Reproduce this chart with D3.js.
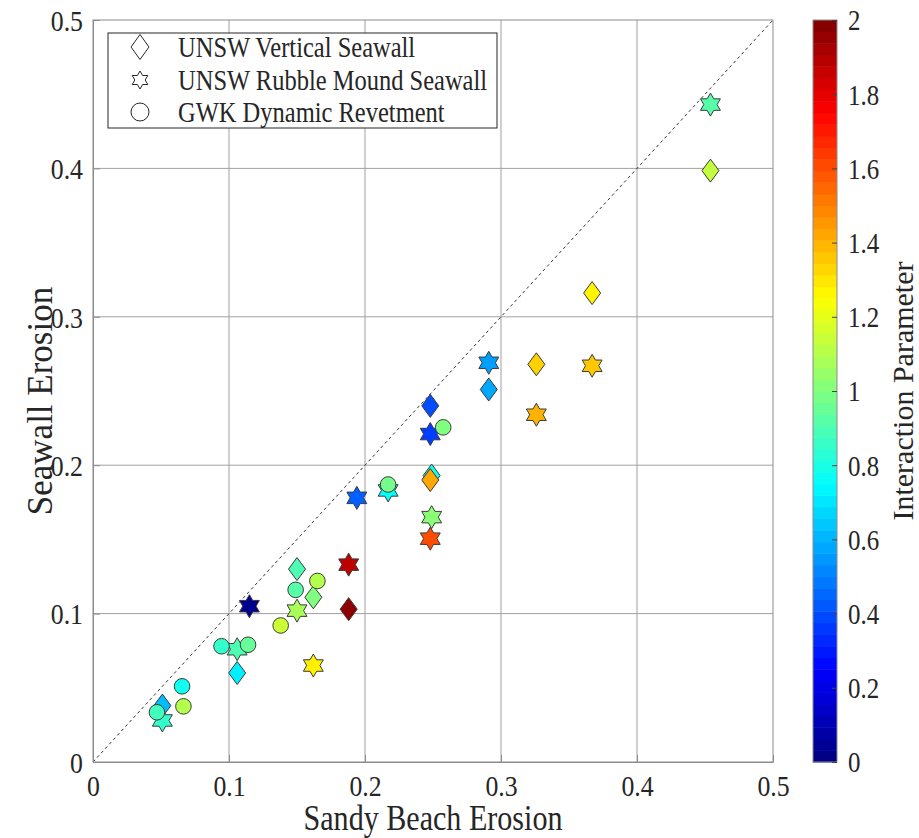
<!DOCTYPE html>
<html>
<head>
<meta charset="utf-8">
<script src="https://cdn.jsdelivr.net/npm/d3@7"></script>
<style>
  body { margin: 0; background: #fff; }
  svg text { font-family: "Liberation Serif", "Times New Roman", serif; fill: #262626; }
</style>
</head>
<body>
<div id="chart"></div>
<script>
// vertical seawall (diamonds): sandy beach erosion, seawall erosion, interaction parameter
var vertX = [0.051, 0.106, 0.150, 0.162, 0.188, 0.248, 0.291, 0.249, 0.248, 0.454, 0.367, 0.326];
var vertY = [0.038, 0.060, 0.130, 0.111, 0.103, 0.240, 0.251, 0.193, 0.190, 0.3985, 0.316, 0.268];
var vertC = [0.62, 0.72, 0.90, 1.00, 1.97, 0.40, 0.58, 0.78, 1.42, 1.13, 1.27, 1.34];

// rubble mound seawall (hexagrams)
var rubX = [0.051, 0.106, 0.115, 0.150, 0.162, 0.188, 0.194, 0.217, 0.248, 0.249, 0.248, 0.291, 0.367, 0.326, 0.454];
var rubY = [0.028, 0.076, 0.105, 0.102, 0.065, 0.133, 0.178, 0.183, 0.221, 0.165, 0.1505, 0.269, 0.267, 0.234, 0.443];
var rubC = [0.85, 0.90, 0.03, 1.08, 1.28, 1.88, 0.44, 0.76, 0.37, 1.02, 1.60, 0.56, 1.36, 1.40, 0.92];

// GWK dynamic revetment (circles)
var gwkX = [0.047, 0.0655, 0.0665, 0.0945, 0.114, 0.138, 0.149, 0.165, 0.217, 0.2575];
var gwkY = [0.0335, 0.051, 0.0375, 0.078, 0.079, 0.092, 0.116, 0.122, 0.187, 0.2255];
var gwkC = [0.88, 0.78, 1.10, 0.85, 0.95, 1.15, 0.92, 1.10, 0.98, 1.00];

var axisTicks = [0, 0.1, 0.2, 0.3, 0.4, 0.5];
var cbTicks = [0, 0.2, 0.4, 0.6, 0.8, 1, 1.2, 1.4, 1.6, 1.8, 2];
var legendLabels = ["UNSW Vertical Seawall", "UNSW Rubble Mound Seawall", "GWK Dynamic Revetment"];

var W = 919, H = 838;
// careful: "top" is taken by window.top
var pLeft = 93, pRight = 773, pTop = 20, pBottom = 762;
var SQ = 0.86; // the reference text looks horizontally condensed

var svg = d3.select("#chart").append("svg")
	.attr("width", W)
	.attr("height", H);

var x = d3.scaleLinear().domain([0, 0.5]).range([pLeft, pRight]);
var y = d3.scaleLinear().domain([0, 0.5]).range([pBottom, pTop]);
var cScale = d3.scaleLinear().domain([0, 2]).range([0, 1]).clamp(true);

// matlab jet
function jet(v) {
	var t = cScale(v);
	function cl(a) { return Math.max(0, Math.min(1, a)); }
	var r = cl(Math.min(4 * t - 1.5, -4 * t + 4.5));
	var g = cl(Math.min(4 * t - 0.5, -4 * t + 3.5));
	var b = cl(Math.min(4 * t + 0.5, -4 * t + 2.5));
	return d3.rgb(r * 255, g * 255, b * 255).toString();
}

// grid
var grid = svg.append("g").attr("class", "grid");
grid.selectAll("line.gx")
	.data(axisTicks.slice(1, -1))
	.enter().append("line")
	.attr("x1", d => x(d)).attr("x2", d => x(d))
	.attr("y1", pTop).attr("y2", pBottom)
	.attr("stroke", "#a0a0a0").attr("stroke-width", 1);
grid.selectAll("line.gy")
	.data(axisTicks.slice(1, -1))
	.enter().append("line")
	.attr("y1", d => y(d)).attr("y2", d => y(d))
	.attr("x1", pLeft).attr("x2", pRight)
	.attr("stroke", "#a0a0a0").attr("stroke-width", 1);

// 1:1 line
svg.append("line")
	.attr("x1", x(0)).attr("y1", y(0))
	.attr("x2", x(0.5)).attr("y2", y(0.5))
	.attr("stroke", "#333").attr("stroke-width", 1)
	.attr("stroke-dasharray", "3,3");

// axes
var xAxis = svg.append("g")
	.attr("transform", "translate(0," + pBottom + ")")
	.call(d3.axisBottom(x).tickValues(axisTicks).tickFormat(d3.format("")).tickSizeInner(-7).tickSizeOuter(0).tickPadding(12));
var yAxis = svg.append("g")
	.attr("transform", "translate(" + pLeft + ",0)")
	.call(d3.axisLeft(y).tickValues(axisTicks).tickFormat(d3.format("")).tickSizeInner(-7).tickSizeOuter(0).tickPadding(17));
[xAxis, yAxis].forEach(function(a) {
	a.select(".domain").attr("stroke", "#8c8c8c");
	a.selectAll(".tick line").attr("stroke", "#8c8c8c");
	a.selectAll(".tick text")
		.style("font-size", "30px")
		.attr("fill", "#262626")
		.attr("font-family", "Liberation Serif");
});
xAxis.selectAll(".tick text").attr("dy", "0.72em").attr("transform", "scale(" + SQ + ",1)");
yAxis.selectAll(".tick text").attr("transform", "scale(" + SQ + ",1)").attr("dy", "0.34em")
	.attr("x", -10 / SQ);

// box
svg.append("rect")
	.attr("x", pLeft).attr("y", pTop)
	.attr("width", pRight - pLeft).attr("height", pBottom - pTop)
	.attr("fill", "none").attr("stroke", "#8c8c8c").attr("stroke-width", 1);

// markers
var hexR = 11.5, hexr = hexR / Math.sqrt(3);
function hexagram(cx, cy, R, r) {
	var pts = [];
	for (var i = 0; i < 12; i++) {
		var a = -Math.PI / 2 + i * Math.PI / 6;
		var rr = i % 2 === 0 ? R : r;
		pts.push([cx + rr * Math.cos(a), cy + rr * Math.sin(a)]);
	}
	return "M" + pts.map(p => p.join(",")).join("L") + "Z";
}
function diamond(cx, cy, w, h) {
	return "M" + cx + "," + (cy - h) + "L" + (cx + w) + "," + cy + "L" + cx + "," + (cy + h) + "L" + (cx - w) + "," + cy + "Z";
}

var marks = svg.append("g").attr("class", "marks");
var vertData = vertX.map((v, i) => ({x: v, y: vertY[i], c: vertC[i]}));
var rubData = rubX.map((v, i) => ({x: v, y: rubY[i], c: rubC[i]}));
var gwkData = gwkX.map((v, i) => ({x: v, y: gwkY[i], c: gwkC[i]}));

marks.selectAll("path.vert")
	.data(vertData)
	.enter().append("path")
	.attr("d", d => diamond(x(d.x), y(d.y), 8.5, 11.5))
	.attr("fill", d => jet(d.c))
	.attr("stroke", "#3a3a3a").attr("stroke-width", 1);
marks.selectAll("path.rub")
	.data(rubData)
	.enter().append("path")
	.attr("d", d => hexagram(x(d.x), y(d.y), hexR, hexr))
	.attr("fill", d => jet(d.c))
	.attr("stroke", "#3a3a3a").attr("stroke-width", 1);
marks.selectAll("circle.gwk")
	.data(gwkData)
	.enter().append("circle")
	.attr("cx", d => x(d.x)).attr("cy", d => y(d.y))
	.attr("r", 7.8)
	.attr("fill", d => jet(d.c))
	.attr("stroke", "#3a3a3a").attr("stroke-width", 1);

// legend
var lg = svg.append("g").attr("class", "legend");
lg.append("rect")
	.attr("x", 108).attr("y", 33).attr("width", 389).attr("height", 95)
	.attr("fill", "#fff").attr("stroke", "#262626").attr("stroke-width", 1);
var rowY = [47, 80, 112];
lg.append("path").attr("d", diamond(140, rowY[0], 9, 12.5)).attr("fill", "none").attr("stroke", "#262626");
lg.append("path").attr("d", hexagram(140, rowY[1], 9, 9 / Math.sqrt(3))).attr("fill", "none").attr("stroke", "#262626");
lg.append("circle").attr("cx", 140).attr("cy", rowY[2]).attr("r", 9).attr("fill", "none").attr("stroke", "#262626");
lg.selectAll("text")
	.data(legendLabels)
	.enter().append("text")
	.attr("transform", (d, i) => "translate(178," + (rowY[i] + 10) + ") scale(" + SQ + ",1)")
	.style("font-size", "28.5px")
	.text(d => d);

// axis labels
svg.append("text")
	.attr("transform", "translate(" + (pLeft + pRight) / 2 + ",830) scale(" + SQ + ",1)")
	.attr("text-anchor", "middle")
	.style("font-size", "35px")
	.text("Sandy Beach Erosion");
svg.append("text")
	.attr("transform", "translate(52,401) rotate(-90)")
	.attr("text-anchor", "middle")
	.style("font-size", "35px")
	.text("Seawall Erosion");

// colorbar
var cbX = 813, cbW = 24;
var cbY = d3.scaleLinear().domain([0, 2]).range([pBottom, pTop]);
var levels = d3.range(64);
svg.append("g").selectAll("rect")
	.data(levels)
	.enter().append("rect")
	.attr("x", cbX)
	.attr("y", d => cbY((d + 1) * 2 / 64))
	.attr("width", cbW)
	.attr("height", d => cbY(d * 2 / 64) - cbY((d + 1) * 2 / 64) + 0.5)
	.attr("fill", d => jet((d + 0.5) * 2 / 64));
svg.append("rect")
	.attr("x", cbX).attr("y", pTop).attr("width", cbW).attr("height", pBottom - pTop)
	.attr("fill", "none").attr("stroke", "#8c8c8c");
var cbAxis = svg.append("g")
	.attr("transform", "translate(" + (cbX + cbW) + ",0)")
	.call(d3.axisRight(cbY).tickValues(cbTicks).tickFormat(d3.format("")).tickSizeInner(-5).tickSizeOuter(0).tickPadding(12));
cbAxis.select(".domain").remove();
cbAxis.selectAll(".tick line").attr("stroke", "#444");
cbAxis.selectAll(".tick text")
	.style("font-size", "29px")
	.attr("font-family", "Liberation Serif")
	.attr("fill", "#262626")
	.attr("dy", "0.34em")
	.attr("x", 11 / SQ)
	.attr("transform", "scale(" + SQ + ",1)");
svg.append("text")
	.attr("transform", "translate(913,391) rotate(-90)")
	.attr("text-anchor", "middle")
	.style("font-size", "30px")
	.text("Interaction Parameter");
</script>
</body>
</html>
